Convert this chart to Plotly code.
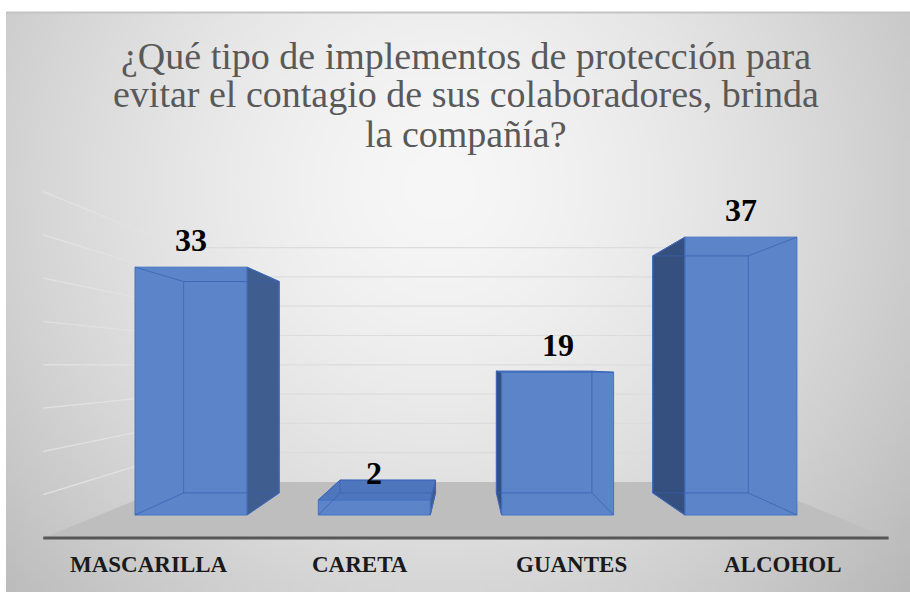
import base64
import struct
import zlib

import numpy as np
import plotly.graph_objects as go

# ---------------- data ----------------
categories = ["MASCARILLA", "CARETA", "GUANTES", "ALCOHOL"]
values = [33, 2, 19, 37]
gridline_values = [5, 10, 15, 20, 25, 30, 35, 40]
title_lines = [
    "¿Qué tipo de implementos de protección para",
    "evitar el contagio de sus colaboradores, brinda",
    "la compañía?",
]

# ---------------- geometry (layout only) ----------------
W, H = 910, 592
X0_PX, DX_PX = 191.0, 183.3   # pixel of category 0 centre, pixels per category
Y0_PX, DY_PX = 515.0, 7.51    # pixel of value 0, pixels per value unit
SERIF = "Liberation Serif, Times New Roman, serif"


def px2x(px):
    return (px - X0_PX) / DX_PX


def py2y(py):
    return (Y0_PX - py) / DY_PX


VP = (1.5, 20.0)                    # vanishing point (data units)
S_BAR_FRONT, S_BAR_BACK = 1.0, 0.853
S_FLOOR_FRONT, S_FLOOR_BACK = 1.153, 0.78
HALF_W = 0.3055
X_LEFT, X_RIGHT = -0.5, 3.5


def proj(x, v, s):
    return VP[0] + s * (x - VP[0]), VP[1] + s * (v - VP[1])


def path(points):
    return "M " + " L ".join(f"{a:.4f},{b:.4f}" for a, b in points) + " Z"


# ---------------- background gradient image ----------------
def make_png(arr):
    h, w = arr.shape
    raw = b"".join(b"\x00" + arr[r].astype(np.uint8).tobytes() for r in range(h))

    def chunk(t, d):
        c = struct.pack(">I", len(d)) + t + d
        return c + struct.pack(">I", zlib.crc32(t + d) & 0xFFFFFFFF)

    ihdr = struct.pack(">IIBBBBB", w, h, 8, 0, 0, 0, 0)
    return (b"\x89PNG\r\n\x1a\n" + chunk(b"IHDR", ihdr)
            + chunk(b"IDAT", zlib.compress(raw, 9)) + chunk(b"IEND", b""))


gw, gh = 226, 145
gx = (np.arange(gw) + 0.5) / gw
gy = (np.arange(gh) + 0.5) / gh
GX, GY = np.meshgrid(gx, gy)
d = np.sqrt(((GX - 0.48) / 0.6) ** 2 + ((GY - 0.3) / 0.95) ** 2)
gray = 247 - 52 * np.clip(d, 0, 1.2) ** 1.5
bg_uri = "data:image/png;base64," + base64.b64encode(make_png(np.clip(gray, 0, 255))).decode()

fig = go.Figure()

shapes = []
# floor
floor_pts = [proj(X_LEFT, 0, S_FLOOR_FRONT), proj(X_RIGHT, 0, S_FLOOR_FRONT),
             proj(X_RIGHT, 0, S_FLOOR_BACK), proj(X_LEFT, 0, S_FLOOR_BACK)]
shapes.append(dict(type="path", xref="x", yref="y", path=path(floor_pts),
                   fillcolor="#bebebe", line=dict(width=0), layer="below"))
# gridlines: back wall + left wall
for g in gridline_values:
    a = proj(X_LEFT, g, S_FLOOR_BACK)
    b = proj(X_RIGHT, g, S_FLOOR_BACK)
    c = proj(X_LEFT, g, S_FLOOR_FRONT)
    shapes.append(dict(type="line", xref="x", yref="y", x0=a[0], y0=a[1], x1=b[0], y1=b[1],
                       line=dict(color="#dcdcdc", width=1.2), layer="below"))
    shapes.append(dict(type="line", xref="x", yref="y", x0=c[0], y0=c[1], x1=a[0], y1=a[1],
                       line=dict(color="#e2e2e2", width=1.2), layer="below"))
# axis line (front edge of floor)
a = proj(X_LEFT, 0, S_FLOOR_FRONT)
b = proj(X_RIGHT, 0, S_FLOOR_FRONT)
shapes.append(dict(type="line", xref="x", yref="y", x0=a[0], y0=a[1], x1=b[0], y1=b[1],
                   line=dict(color="#575757", width=3), layer="below"))
# chart border (top)
shapes.append(dict(type="line", xref="paper", yref="paper", x0=6 / W, x1=1, y0=1 - 12.5 / H,
                   y1=1 - 12.5 / H, line=dict(color="#c4c4c4", width=2)))

# front faces through bar trace
xs = list(range(len(categories)))
fig.add_trace(go.Bar(
    x=xs, y=values, width=2 * HALF_W,
    marker=dict(color="#5b84c9", line=dict(color="#4472c4", width=1)),
    hoverinfo="skip",
))

# side and top faces
for i, v in enumerate(values):
    x_edge = i + HALF_W if i < VP[0] else i - HALF_W
    side = [proj(x_edge, 0, S_BAR_FRONT), proj(x_edge, v, S_BAR_FRONT),
            proj(x_edge, v, S_BAR_BACK), proj(x_edge, 0, S_BAR_BACK)]
    side_col = "#3f5d8f" if i < VP[0] else "#35507e"
    fig.add_trace(go.Scatter(
        x=[p[0] for p in side] + [side[0][0]], y=[p[1] for p in side] + [side[0][1]],
        fill="toself", fillcolor=side_col, mode="lines",
        line=dict(color="#4472c4", width=1), hoverinfo="skip"))
    if v < VP[1]:
        top = [proj(i - HALF_W, v, S_BAR_FRONT), proj(i + HALF_W, v, S_BAR_FRONT),
               proj(i + HALF_W, v, S_BAR_BACK), proj(i - HALF_W, v, S_BAR_BACK)]
        fig.add_trace(go.Scatter(
            x=[p[0] for p in top] + [top[0][0]], y=[p[1] for p in top] + [top[0][1]],
            fill="toself", fillcolor="#4e76bd", mode="lines",
            line=dict(color="#4472c4", width=1), hoverinfo="skip"))

# interior (see-through) edges
ex, ey = [], []
for i, v in enumerate(values):
    for xx in (i - HALF_W, i + HALF_W):
        for vv in (0, v):
            p1 = proj(xx, vv, S_BAR_FRONT)
            p2 = proj(xx, vv, S_BAR_BACK)
            ex += [p1[0], p2[0], None]
            ey += [p1[1], p2[1], None]
    back = [proj(i - HALF_W, 0, S_BAR_BACK), proj(i + HALF_W, 0, S_BAR_BACK),
            proj(i + HALF_W, v, S_BAR_BACK), proj(i - HALF_W, v, S_BAR_BACK)]
    back.append(back[0])
    ex += [p[0] for p in back] + [None]
    ey += [p[1] for p in back] + [None]
fig.add_trace(go.Scatter(x=ex, y=ey, mode="lines",
                         line=dict(color="rgba(58,98,178,0.75)", width=1), hoverinfo="skip"))

annotations = []
# value labels
for i, v in enumerate(values):
    annotations.append(dict(x=i, y=v, xref="x", yref="y", text=f"<b>{v}</b>", showarrow=False,
                            yanchor="bottom", yshift=7,
                            font=dict(family=SERIF, size=32, color="#000000")))
# category labels (on projected front edge of floor)
for i, c in enumerate(categories):
    px, _ = proj(i, 0, S_FLOOR_FRONT)
    annotations.append(dict(x=px, y=py2y(573 + 0.216 * 23 + 1), xref="x", yref="y",
                            text=f"<b>{c}</b>", showarrow=False, yanchor="bottom",
                            font=dict(family=SERIF, size=23, color="#1a1a1a")))
# title lines
for k, (line, base) in enumerate(zip(title_lines, [70, 108, 148])):
    annotations.append(dict(x=466 / W, y=1 - (base + 0.216 * 38 + 1) / H, xref="paper", yref="paper",
                            text=line, showarrow=False, yanchor="bottom", xanchor="center",
                            font=dict(family=SERIF, size=38, color="#595959")))

fig.update_layout(
    width=W, height=H,
    margin=dict(l=0, r=0, t=0, b=0),
    paper_bgcolor="#ffffff",
    plot_bgcolor="rgba(0,0,0,0)",
    showlegend=False,
    xaxis=dict(visible=False, range=[px2x(0), px2x(W)], fixedrange=True),
    yaxis=dict(visible=False, range=[py2y(H), py2y(0)], fixedrange=True),
    shapes=shapes,
    annotations=annotations,
    images=[dict(source=bg_uri, xref="paper", yref="paper", x=6 / W, y=1 - 12 / H,
                 sizex=(W - 6) / W, sizey=(H - 12) / H, sizing="stretch",
                 xanchor="left", yanchor="top", layer="below")],
)

fig.write_html("out.html", config={"displayModeBar": False},
               post_script="document.body.style.margin='0';document.body.style.overflow='hidden';")
